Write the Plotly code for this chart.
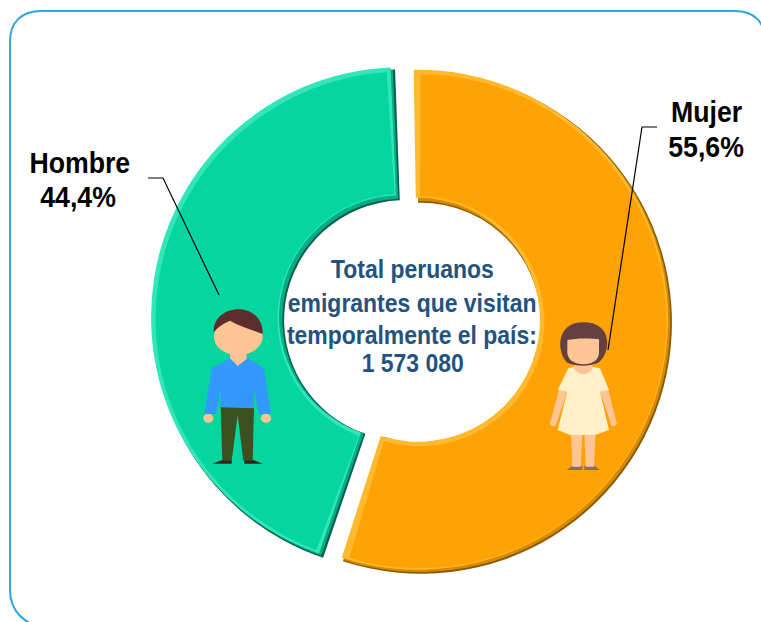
import re
import plotly.graph_objects as go

W, H = 761, 622
labels = ["Mujer", "Hombre"]
values = [55.6, 44.4]
colors = ["#ffa205", "#05d6a0"]
shades = ["#8a5a00", "#045f4c"]
mids = ["#d98a00", "#04ad85"]
tops = ["#ffb92e", "#33e6ba"]
slice_labels = ["Mujer", "55,6%", "Hombre", "44,4%"]
center_lines = ["Total peruanos", "emigrantes que visitan", "temporalmente el país:", "1 573 080"]


def px(path, ox=0, oy=0, s=1.0):
    nums = iter(re.findall(r"-?\d+\.?\d*|[A-Za-z]", path))
    out, is_x = [], True
    for t in nums:
        if t.isalpha():
            out.append(t)
            is_x = True
        else:
            v = float(t)
            if is_x:
                out.append(f"{(ox + v * s) / W:.5f}")
            else:
                out.append(f"{1 - (oy + v * s) / H:.5f}")
            is_x = not is_x
    return " ".join(out)


shapes = []


def add(path, fill=None, color=None, width=0, ox=0, oy=0, s=1.0):
    shapes.append(dict(type="path", xref="paper", yref="paper", path=px(path, ox, oy, s),
                       fillcolor=fill or "rgba(0,0,0,0)",
                       line=dict(color=color or "rgba(0,0,0,0)", width=width), layer="above"))


def ell(cx, cy, rx, ry):
    k = 0.5523
    return (f"M {cx-rx} {cy} C {cx-rx} {cy-k*ry} {cx-k*rx} {cy-ry} {cx} {cy-ry} "
            f"C {cx+k*rx} {cy-ry} {cx+rx} {cy-k*ry} {cx+rx} {cy} "
            f"C {cx+rx} {cy+k*ry} {cx+k*rx} {cy+ry} {cx} {cy+ry} "
            f"C {cx-k*rx} {cy+ry} {cx-rx} {cy+k*ry} {cx-rx} {cy} Z")


# frame
add("M 45 626 C 24 626 10 610 10 590 L 10 41 C 10 22 22 11 41 11 L 735 11 C 754 11 765 22 765 41 L 765 590",
    color="#2ea5dd", width=2)

# leader lines
add("M 148 178 L 163 178 L 219 295", color="#000000", width=1.2)
add("M 657 127 L 642 127 L 608 350", color="#000000", width=1.2)

# man
SK, HR = "#ffc594", "#5c2d2d"
o = dict(ox=190, oy=290, s=1 / 3)
add(ell(55, 385, 15, 14), SK, **o)
add(ell(228, 385, 15, 14), SK, **o)
add("M 67 521 L 97 510 L 125 510 L 125 521 Z", "#3b1f1f", **o)
add("M 163 521 L 163 510 L 190 510 L 218 521 Z", "#3b1f1f", **o)
add("M 92 350 L 192 350 L 188 512 L 160 512 L 143 375 L 125 512 L 97 512 Z", "#3a5020", **o)
add("M 65 235 L 120 205 L 175 205 L 222 235 L 243 372 L 207 372 L 192 300 L 192 355 "
    "L 92 352 L 92 300 L 78 372 L 43 372 Z", "#3399ff", **o)
add("M 120 185 L 170 185 L 170 207 L 143 228 L 120 205 Z", SK, **o)
add(ell(145, 140, 73, 55), SK, **o)
add("M 71 126 C 70 85 105 58 145 58 C 190 58 220 90 218 132 C 190 120 150 110 120 92 C 100 100 85 110 71 126 Z", HR, **o)

# woman
o = dict(ox=535, oy=310, s=1 / 3)
add("M 95 480 L 112 467 L 142 467 L 142 480 Z", "#8c7050", **o)
add("M 148 480 L 148 467 L 178 467 L 195 480 Z", "#8c7050", **o)
add("M 108 370 L 142 370 L 137 470 L 112 470 Z", "#ffc594", **o)
add("M 148 370 L 182 370 L 177 470 L 152 470 Z", "#ffc594", **o)
add("M 72 240 L 97 245 L 62 348 L 45 340 Z", "#ffc594", **o)
add("M 195 245 L 220 240 L 245 340 L 230 348 Z", "#ffc594", **o)
add(ell(54, 340, 9, 9), "#ffc594", **o)
add(ell(236, 340, 9, 9), "#ffc594", **o)
add("M 100 175 L 118 170 L 172 170 L 195 175 L 222 240 L 195 245 L 222 360 L 180 375 "
    "L 105 375 L 68 360 L 97 245 L 68 240 Z", "#fff0c8", **o)
add(ell(145, 170, 28, 22), "#ffc594", **o)
add("M 97 158 C 65 130 60 37 145 37 C 235 37 228 130 190 158 C 160 170 125 170 97 158 Z", "#644040", **o)
add("M 97 90 C 120 84 170 84 192 88 L 192 130 C 190 155 165 163 145 163 C 125 163 100 155 97 130 Z", "#ffc594", **o)

CX, CY, PULL_PX = 411, 320, 8.5


def domain(R, dx, dy):
    d = R + PULL_PX
    cx, cy = CX + dx, CY + dy
    return dict(x=[(cx - d) / W, (cx + d) / W], y=[1 - (cy + d) / H, 1 - (cy - d) / H])


def ring(R, hole_r, cols, inset=0.0, dx=0.0, dy=0.0):
    """One layer of the bevel: the two slices, inset by transparent slivers."""
    vals, cs, pulls = [], [], []
    for v, c in zip(values, cols):
        if inset:
            vals += [inset, v - 2 * inset, inset]
            cs += ["rgba(0,0,0,0)", c, "rgba(0,0,0,0)"]
            pulls += [0, PULL_PX / R, 0]
        else:
            vals.append(v)
            cs.append(c)
            pulls.append(PULL_PX / R)
    return go.Pie(values=vals, sort=False, direction="clockwise", rotation=-1.7, hole=hole_r / R,
                  marker=dict(colors=cs, line=dict(width=0)), pull=pulls, textinfo="none",
                  hoverinfo="skip", showlegend=False, domain=domain(R, dx, dy))


fig = go.Figure([
    ring(251, 120, shades, 0.1, 1.5, 1.5),
    ring(250, 121, mids, 0.2, 0.8, 0.8),
    ring(250, 122, tops, 0.2, -1.5, -1.5),
    ring(247, 125, colors, 0.55, 0, 0),
])

ann = []


def text(x, y, s, size, color):
    ann.append(dict(x=x / W, y=1 - y / H, xref="paper", yref="paper", text=s, showarrow=False,
                    xanchor="center", yanchor="middle",
                    font=dict(family="Liberation Sans, Arial, sans-serif", size=size, color=color)))


for (x, y), s in zip([(706, 112), (706, 147), (80, 163), (78, 197)], slice_labels):
    text(x, y, f"<b>{s}</b>", 29, "#000000")
for y, s in zip([269, 303, 335, 363], center_lines):
    text(412, y, f"<b>{s}</b>", 25.5, "#24527f")

fig.update_layout(width=W, height=H, margin=dict(l=0, r=0, t=0, b=0), paper_bgcolor="#ffffff",
                  shapes=shapes, annotations=ann, showlegend=False)

# The reference uses a condensed bold face: squeeze the real text horizontally.
squeeze = """
document.body.style.margin='0';document.body.style.overflow='hidden';
document.querySelectorAll('.annotation-text').forEach(function(t){
  var k = t.textContent.match(/Hombre|Mujer|,/) ? 0.92 : 0.9;
  t.setAttribute('lengthAdjust','spacingAndGlyphs');
  t.setAttribute('textLength', t.getComputedTextLength()*k);
});
"""
fig.write_html("out.html", post_script=squeeze, config={"displayModeBar": False})
